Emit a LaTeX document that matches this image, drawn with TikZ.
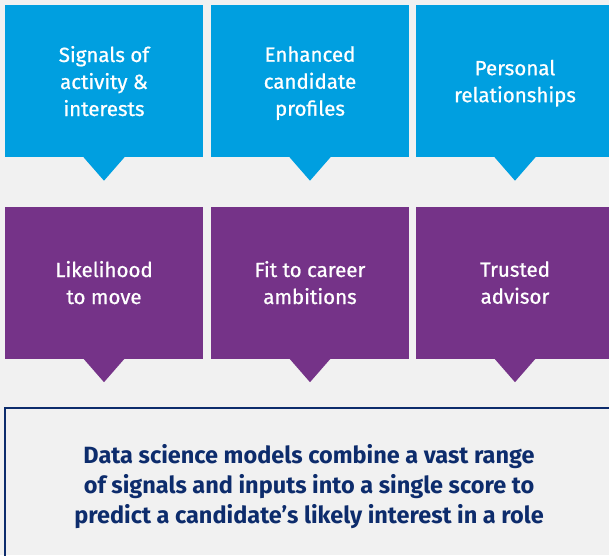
\documentclass[tikz,border=0pt]{standalone}
\usepackage{fontspec}
\setmainfont{Fira Sans}
\newfontfamily\tilefont{Fira Sans}[FakeBold=0.8]
\definecolor{pageback}{HTML}{F1F1F1}
\definecolor{signalblue}{HTML}{009FE0}
\definecolor{motivepurple}{HTML}{753388}
\definecolor{scorenavy}{HTML}{0D2C6C}
\tikzset{
  tile/.style={minimum width=198pt,minimum height=152pt,inner sep=0pt,
    align=center,text=white,font=\tilefont\fontsize{20.5}{27}\selectfont,
    execute at begin node=\strut,execute at end node=\strut,text depth=0pt},
  bluetile/.style={tile,fill=signalblue},
  purpletile/.style={tile,fill=motivepurple},
}
\newcommand{\pointer}[2]{% node, colour
  \fill[#2] ([xshift=-20.5pt]#1.south) -- ([xshift=20.5pt]#1.south) -- ([yshift=-23.5pt]#1.south) -- cycle;}

\begin{document}
\begin{tikzpicture}[x=1pt,y=-1pt]
  \useasboundingbox[fill=pageback] (0,0) rectangle (609,555);

  % Inputs
  \node[bluetile] (signals) at (104,81) {Signals of\\activity \&\\interests};
  \node[bluetile] (profiles) at (310,81) {Enhanced\\candidate\\profiles};
  \node[bluetile] (relations) at (515,81) {Personal\\relationships};
  \pointer{signals}{signalblue}
  \pointer{profiles}{signalblue}
  \pointer{relations}{signalblue}

  % What they tell us
  \node[purpletile] (move) at (104,282.5) {Likelihood\\to move};
  \node[purpletile] (career) at (310,282.5) {Fit to career\\ambitions};
  \node[purpletile] (advisor) at (515,282.5) {Trusted\\advisor};
  \pointer{move}{motivepurple}
  \pointer{career}{motivepurple}
  \pointer{advisor}{motivepurple}

  % Score
  \draw[scorenavy,line width=2.5pt] (5,408) rectangle (640,600);
  \node[align=center,text=scorenavy,font=\fontsize{23.5}{30}\selectfont\bfseries] (score) at (309,487)
    {Data science models combine a vast range\\of signals and inputs into a single score to\\predict a candidate's likely interest in a role};
\end{tikzpicture}
\end{document}
